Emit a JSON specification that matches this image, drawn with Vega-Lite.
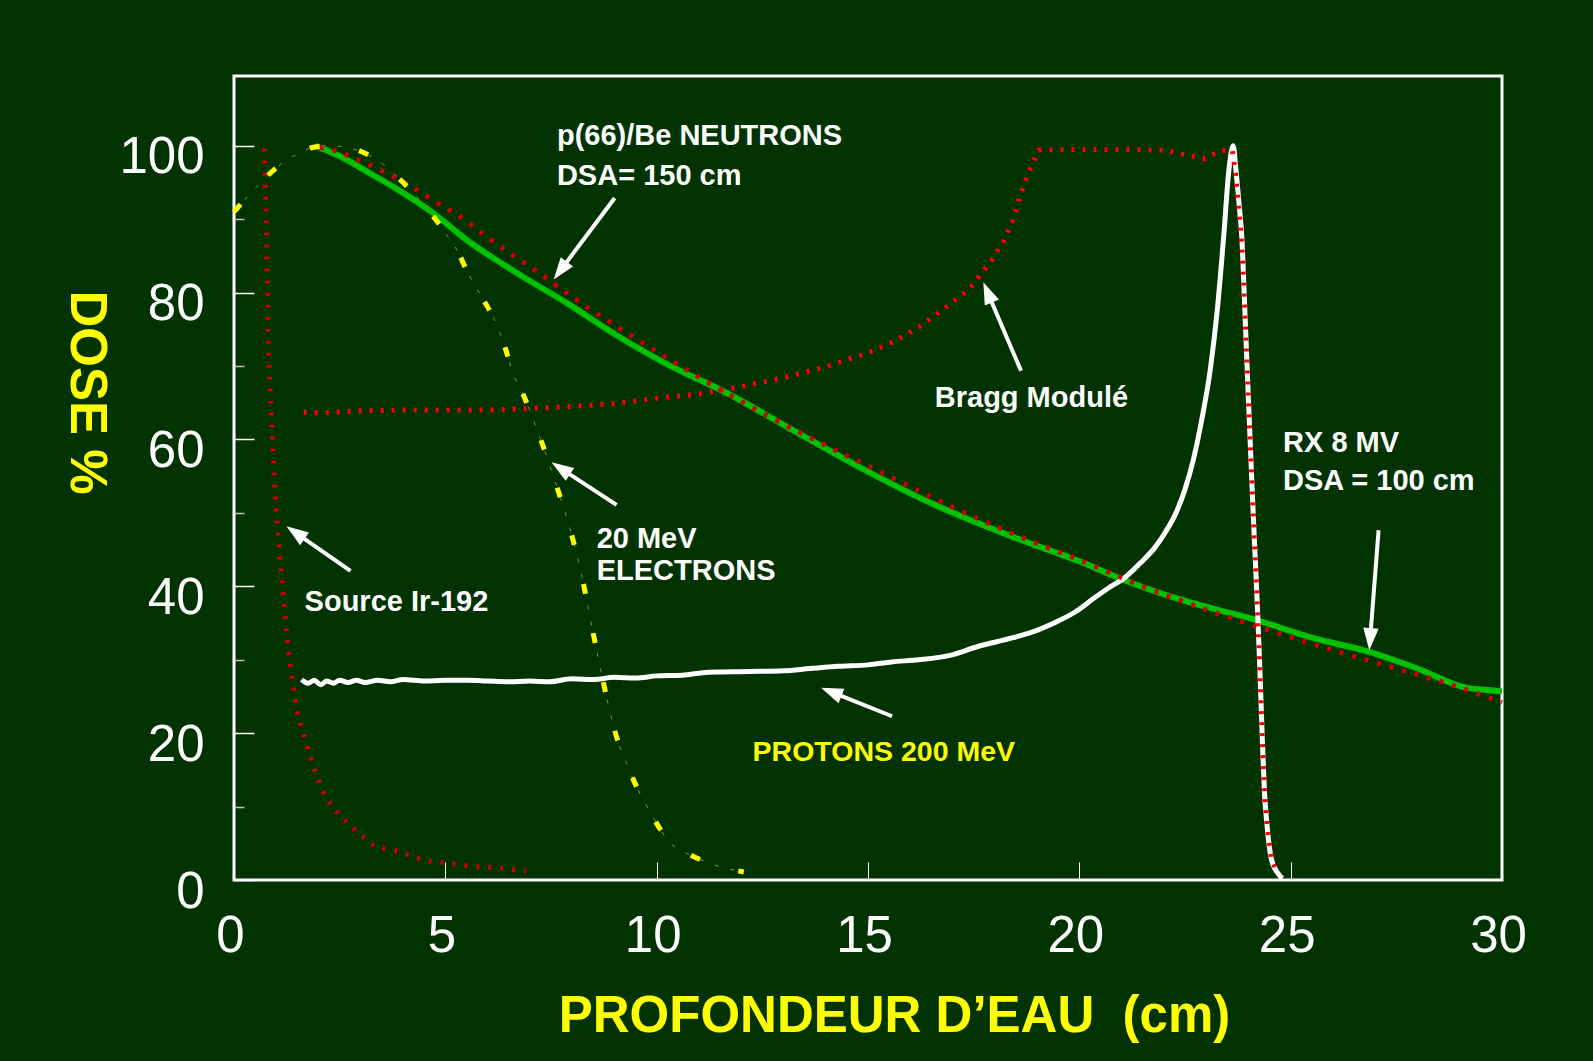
{
  "$schema": "https://vega.github.io/schema/vega-lite/v6.json",
  "width": 1268,
  "height": 804,
  "autosize": {"type": "none"},
  "padding": {"left": 234, "top": 76, "right": 91, "bottom": 181},
  "background": "#003300",
  "config": {
    "view": {"stroke": "#ffffff", "strokeWidth": 3, "fill": "#003300"},
    "font": "Liberation Sans"
  },
  "datasets": {
    "rx": [
      {"x": 1.92, "y": 100}, {"x": 2.6, "y": 98.3}, {"x": 3.2, "y": 96.3}, {"x": 3.77, "y": 94.4},
      {"x": 4.72, "y": 90.8}, {"x": 5.5, "y": 87.2}, {"x": 6.77, "y": 82.4}, {"x": 7.87, "y": 78.6},
      {"x": 9.05, "y": 74.2}, {"x": 10.5, "y": 69.5}, {"x": 11.5, "y": 66.8}, {"x": 13, "y": 62.0},
      {"x": 14.84, "y": 56.1}, {"x": 16.5, "y": 51.3}, {"x": 18.44, "y": 46.7}, {"x": 20, "y": 43.4},
      {"x": 21.08, "y": 40.8}, {"x": 22.5, "y": 38.0}, {"x": 24.2, "y": 35.4}, {"x": 25.5, "y": 33.0},
      {"x": 26.84, "y": 31.1}, {"x": 28, "y": 28.8}, {"x": 29.15, "y": 26.2}, {"x": 29.4, "y": 26.0},
      {"x": 30, "y": 25.7}
    ],
    "neutrons": [
      {"x": 2.03, "y": 99.8}, {"x": 2.35, "y": 99.4}, {"x": 2.94, "y": 98.1}, {"x": 3.53, "y": 96.5},
      {"x": 4.15, "y": 94.6}, {"x": 4.76, "y": 92.4}, {"x": 5.39, "y": 90.2}, {"x": 5.98, "y": 87.6},
      {"x": 6.57, "y": 85.2}, {"x": 7.19, "y": 82.8}, {"x": 7.79, "y": 80.3}, {"x": 8.38, "y": 77.9},
      {"x": 9.0, "y": 75.6}, {"x": 9.6, "y": 73.4}, {"x": 11, "y": 68.5}, {"x": 12.5, "y": 63.6},
      {"x": 14, "y": 59.2}, {"x": 15.5, "y": 55.0}, {"x": 17, "y": 50.8}, {"x": 18.5, "y": 47.0},
      {"x": 20, "y": 43.6}, {"x": 21.5, "y": 40.0}, {"x": 23, "y": 36.8}, {"x": 24.5, "y": 34.0},
      {"x": 26, "y": 31.3}, {"x": 27.5, "y": 28.8}, {"x": 29, "y": 26.2}, {"x": 30, "y": 24.2}
    ],
    "ir": [
      {"x": 0.72, "y": 99.6}, {"x": 0.74, "y": 95}, {"x": 0.77, "y": 88}, {"x": 0.81, "y": 74.5},
      {"x": 0.86, "y": 66}, {"x": 0.91, "y": 60}, {"x": 0.96, "y": 54}, {"x": 1.03, "y": 48},
      {"x": 1.1, "y": 43}, {"x": 1.18, "y": 38}, {"x": 1.28, "y": 31.5}, {"x": 1.4, "y": 26.5},
      {"x": 1.5, "y": 22.8}, {"x": 1.63, "y": 20.2}, {"x": 1.8, "y": 16.8}, {"x": 2.0, "y": 13.6},
      {"x": 2.15, "y": 11.6}, {"x": 2.43, "y": 9.3}, {"x": 2.7, "y": 7.7}, {"x": 2.99, "y": 6.2},
      {"x": 3.29, "y": 4.8}, {"x": 3.88, "y": 3.9}, {"x": 4.51, "y": 2.7}, {"x": 5.07, "y": 2.3},
      {"x": 5.7, "y": 1.85}, {"x": 6.32, "y": 1.6}, {"x": 6.91, "y": 1.2}
    ],
    "bragg": [
      {"x": 1.65, "y": 63.7}, {"x": 2, "y": 63.6}, {"x": 3, "y": 63.9}, {"x": 4, "y": 64.0},
      {"x": 5, "y": 64.0}, {"x": 6, "y": 64.0}, {"x": 7, "y": 64.2}, {"x": 8, "y": 64.5},
      {"x": 9, "y": 64.9}, {"x": 10, "y": 65.6}, {"x": 11, "y": 66.2}, {"x": 12, "y": 67.2},
      {"x": 13, "y": 68.4}, {"x": 14, "y": 69.9}, {"x": 15, "y": 71.8}, {"x": 15.6, "y": 73.3},
      {"x": 16.2, "y": 75.3}, {"x": 16.8, "y": 77.8}, {"x": 17.4, "y": 80.5}, {"x": 17.9, "y": 84.2},
      {"x": 18.2, "y": 86.9}, {"x": 18.45, "y": 90.1}, {"x": 18.6, "y": 93.2}, {"x": 18.8, "y": 96.4},
      {"x": 19.04, "y": 99.4}, {"x": 20, "y": 99.5}, {"x": 21, "y": 99.5}, {"x": 22, "y": 99.4},
      {"x": 22.98, "y": 98.2}, {"x": 23.3, "y": 99.3}, {"x": 23.62, "y": 99.4}, {"x": 23.7, "y": 96},
      {"x": 23.78, "y": 91}, {"x": 23.85, "y": 86}, {"x": 23.9, "y": 80}, {"x": 23.94, "y": 74},
      {"x": 23.99, "y": 67}, {"x": 24.04, "y": 60}, {"x": 24.12, "y": 49}, {"x": 24.2, "y": 39},
      {"x": 24.27, "y": 29}, {"x": 24.33, "y": 19}, {"x": 24.38, "y": 12}, {"x": 24.44, "y": 7.5},
      {"x": 24.55, "y": 2.7}, {"x": 24.7, "y": 0.9}
    ],
    "protons": [
      {"x": 1.6, "y": 27.3}, {"x": 1.75, "y": 26.8}, {"x": 1.9, "y": 27.2}, {"x": 2.05, "y": 26.6},
      {"x": 2.2, "y": 27.1}, {"x": 2.35, "y": 26.8}, {"x": 2.5, "y": 27.2}, {"x": 2.7, "y": 26.9},
      {"x": 2.9, "y": 27.2}, {"x": 3.1, "y": 26.9}, {"x": 3.4, "y": 27.2}, {"x": 3.7, "y": 27.0},
      {"x": 4.0, "y": 27.3}, {"x": 4.5, "y": 27.1}, {"x": 5.0, "y": 27.2}, {"x": 5.5, "y": 27.2},
      {"x": 6.0, "y": 27.1}, {"x": 6.5, "y": 27.0}, {"x": 7.0, "y": 27.1}, {"x": 7.47, "y": 27.0},
      {"x": 8.0, "y": 27.4}, {"x": 8.5, "y": 27.3}, {"x": 9.0, "y": 27.6}, {"x": 9.5, "y": 27.5},
      {"x": 10.0, "y": 27.8}, {"x": 10.6, "y": 27.9}, {"x": 11.23, "y": 28.3}, {"x": 12.2, "y": 28.4},
      {"x": 13.0, "y": 28.5}, {"x": 13.63, "y": 28.8}, {"x": 14.3, "y": 29.1}, {"x": 15.0, "y": 29.3},
      {"x": 15.56, "y": 29.7}, {"x": 16.2, "y": 30.0}, {"x": 16.94, "y": 30.6}, {"x": 17.6, "y": 31.8},
      {"x": 18.43, "y": 33.0}, {"x": 19.0, "y": 34.0}, {"x": 19.4, "y": 35.0}, {"x": 19.9, "y": 36.5},
      {"x": 20.35, "y": 38.4}, {"x": 20.7, "y": 39.8}, {"x": 21.08, "y": 41.2}, {"x": 21.45, "y": 43.2},
      {"x": 21.79, "y": 45.3}, {"x": 22.05, "y": 47.5}, {"x": 22.28, "y": 49.9}, {"x": 22.5, "y": 53.2},
      {"x": 22.7, "y": 57.3}, {"x": 22.9, "y": 62.8}, {"x": 23.1, "y": 69.6}, {"x": 23.27, "y": 78.0},
      {"x": 23.42, "y": 88.0}, {"x": 23.54, "y": 96.8}, {"x": 23.64, "y": 100}, {"x": 23.7, "y": 97},
      {"x": 23.78, "y": 92}, {"x": 23.85, "y": 87}, {"x": 23.9, "y": 80}, {"x": 23.94, "y": 74},
      {"x": 23.99, "y": 67}, {"x": 24.04, "y": 60}, {"x": 24.12, "y": 49}, {"x": 24.2, "y": 39},
      {"x": 24.27, "y": 29}, {"x": 24.33, "y": 19}, {"x": 24.38, "y": 12}, {"x": 24.44, "y": 7.5},
      {"x": 24.55, "y": 2.7}, {"x": 24.7, "y": 0.9}, {"x": 24.8, "y": 0.2}
    ],
    "electrons": [
      {"x": 0, "y": 91}, {"x": 0.5, "y": 94.2}, {"x": 1.09, "y": 97.4}, {"x": 1.5, "y": 98.9},
      {"x": 1.88, "y": 99.8}, {"x": 2.23, "y": 100}, {"x": 2.8, "y": 99.6}, {"x": 3.45, "y": 97.8},
      {"x": 4.0, "y": 95}, {"x": 4.56, "y": 91.5}, {"x": 5.03, "y": 87.9}, {"x": 5.31, "y": 85.4},
      {"x": 5.5, "y": 83.1}, {"x": 5.9, "y": 79.0}, {"x": 6.13, "y": 76.7}, {"x": 6.41, "y": 72.6},
      {"x": 6.6, "y": 69.0}, {"x": 6.83, "y": 66.3}, {"x": 7.08, "y": 62.7}, {"x": 7.25, "y": 60.1},
      {"x": 7.63, "y": 53.7}, {"x": 7.97, "y": 47.4}, {"x": 8.24, "y": 41.1}, {"x": 8.46, "y": 34.7},
      {"x": 8.68, "y": 28.5}, {"x": 9.0, "y": 20.5}, {"x": 9.37, "y": 14.7}, {"x": 9.85, "y": 9.2},
      {"x": 10.33, "y": 5.0}, {"x": 10.8, "y": 3.4}, {"x": 11.29, "y": 2.2}, {"x": 12.06, "y": 1.1}
    ],
    "labels": [
      {"text": "p(66)/Be NEUTRONS", "x": 7.64, "y": 101.3},
      {"text": "DSA= 150 cm", "x": 7.64, "y": 95.9},
      {"text": "Bragg Modulé", "x": 16.58, "y": 65.6},
      {"text": "RX 8 MV", "x": 24.82, "y": 59.5},
      {"text": "DSA = 100 cm", "x": 24.82, "y": 54.4},
      {"text": "20 MeV", "x": 8.58, "y": 46.5},
      {"text": "ELECTRONS", "x": 8.58, "y": 42.1},
      {"text": "Source Ir-192", "x": 1.67, "y": 37.8}
    ],
    "ylabels": [
      {"text": "PROTONS 200 MeV", "x": 12.27, "y": 17.5}
    ],
    "arrows": [
      {"name": "neutrons", "x": 9.007, "y": 92.89, "xh": 7.72, "yh": 83.0},
      {"name": "bragg", "x": 18.62, "y": 69.35, "xh": 17.83, "yh": 80.02},
      {"name": "rx", "x": 27.08, "y": 47.63, "xh": 26.88, "yh": 32.8},
      {"name": "electrons", "x": 9.05, "y": 51.08, "xh": 7.73, "yh": 56.07},
      {"name": "ir", "x": 2.756, "y": 42.09, "xh": 1.455, "yh": 47.32},
      {"name": "protons", "x": 15.57, "y": 22.3, "xh": 14.13, "yh": 25.62}
    ]
  },
  "resolve": {"axis": {"y": "independent"}},
  "layer": [
    {
      "data": {"name": "rx"},
      "mark": {"type": "line", "color": "#00c000", "strokeWidth": 6, "interpolate": "monotone"},
      "encoding": {
        "x": {
          "field": "x", "type": "quantitative",
          "scale": {"domain": [0, 30], "nice": false, "zero": false},
          "axis": {
            "values": [0, 5, 10, 15, 20, 25, 30],
            "title": "PROFONDEUR D’EAU\u00a0 (cm)",
            "titleColor": "#ffff00", "titleFontSize": 51, "titleFontWeight": "bold", "titleFont": "Liberation Sans",
            "titleX": 660, "titleY": 151, "titleAlign": "center", "titleBaseline": "alphabetic", "titleAnchor": null,
            "labelFontSize": 51, "labelColor": "#ffffff", "labelFont": "Liberation Sans",
            "labelPadding": 49, "labelOffset": -4, "labelFlush": false, "labelOverlap": false, "labelBound": false,
            "tickSize": -18, "tickColor": "#ffffff", "tickWidth": 1,
            "domain": false, "grid": false
          }
        },
        "y": {
          "field": "y", "type": "quantitative",
          "scale": {"domain": [0, 109.5], "nice": false, "zero": false},
          "axis": {
            "values": [0, 20, 40, 60, 80, 100],
            "title": "DOSE %",
            "titleColor": "#ffff00", "titleFontSize": 51, "titleFontWeight": "bold", "titleFont": "Liberation Sans",
            "titleAngle": 90, "titleX": -164, "titleY": 316, "titleAlign": "center", "titleBaseline": "alphabetic", "titleAnchor": null,
            "labelFontSize": 51, "labelColor": "#ffffff", "labelFont": "Liberation Sans",
            "labelPadding": 50, "labelOffset": 12, "labelFlush": false, "labelOverlap": false, "labelBound": false,
            "tickSize": -20, "tickColor": "#ffffff", "tickWidth": 1.5,
            "domain": false, "grid": false
          }
        }
      }
    },
    {
      "data": {"name": "protons"},
      "mark": {"type": "line", "color": "#ffffff", "strokeWidth": 5, "interpolate": "monotone"},
      "encoding": {
        "x": {"field": "x", "type": "quantitative"},
        "y": {
          "field": "y", "type": "quantitative",
          "axis": {
            "orient": "left", "values": [10, 30, 50, 70, 90],
            "labels": false, "title": null, "domain": false, "grid": false,
            "tickSize": -10, "tickColor": "#bbbbbb", "tickWidth": 1.5
          }
        }
      }
    },
    {
      "data": {"name": "bragg"},
      "mark": {"type": "line", "color": "#ff0000", "strokeWidth": 5, "strokeDash": [3, 8]},
      "encoding": {
        "x": {"field": "x", "type": "quantitative"},
        "y": {"field": "y", "type": "quantitative", "axis": null}
      }
    },
    {
      "data": {"name": "neutrons"},
      "mark": {"type": "line", "color": "#cc0000", "strokeWidth": 5, "strokeDash": [4, 9], "interpolate": "monotone"},
      "encoding": {
        "x": {"field": "x", "type": "quantitative"},
        "y": {"field": "y", "type": "quantitative", "axis": null}
      }
    },
    {
      "data": {"name": "ir"},
      "mark": {"type": "line", "color": "#cc0000", "strokeWidth": 5, "strokeDash": [3, 9], "interpolate": "monotone"},
      "encoding": {
        "x": {"field": "x", "type": "quantitative"},
        "y": {"field": "y", "type": "quantitative", "axis": null}
      }
    },
    {
      "data": {"name": "electrons"},
      "mark": {"type": "line", "color": "#8a9a10", "strokeWidth": 1, "strokeDash": [4, 12], "interpolate": "monotone"},
      "encoding": {
        "x": {"field": "x", "type": "quantitative"},
        "y": {"field": "y", "type": "quantitative", "axis": null}
      }
    },
    {
      "data": {"name": "electrons"},
      "mark": {"type": "line", "color": "#ffff00", "strokeWidth": 5, "strokeDash": [10, 40], "interpolate": "monotone"},
      "encoding": {
        "x": {"field": "x", "type": "quantitative"},
        "y": {"field": "y", "type": "quantitative", "axis": null}
      }
    },
    {
      "data": {"name": "arrows"},
      "mark": {"type": "rule", "color": "#ffffff", "strokeWidth": 4},
      "encoding": {
        "x": {"field": "x", "type": "quantitative"},
        "y": {"field": "y", "type": "quantitative", "axis": null},
        "x2": {"field": "xh"},
        "y2": {"field": "yh"}
      }
    },
    {
      "data": {"name": "arrows"},
      "transform": [{"filter": "datum.name === 'neutrons'"}],
      "mark": {"type": "point", "shape": "M0,-1L0.7,1L-0.7,1Z", "filled": true, "color": "#ffffff", "opacity": 1, "size": 484, "angle": 216.8},
      "encoding": {
        "x": {"field": "xh", "type": "quantitative"},
        "y": {"field": "yh", "type": "quantitative", "axis": null}
      }
    },
    {
      "data": {"name": "arrows"},
      "transform": [{"filter": "datum.name === 'bragg'"}],
      "mark": {"type": "point", "shape": "M0,-1L0.7,1L-0.7,1Z", "filled": true, "color": "#ffffff", "opacity": 1, "size": 484, "angle": 337},
      "encoding": {
        "x": {"field": "xh", "type": "quantitative"},
        "y": {"field": "yh", "type": "quantitative", "axis": null}
      }
    },
    {
      "data": {"name": "arrows"},
      "transform": [{"filter": "datum.name === 'rx'"}],
      "mark": {"type": "point", "shape": "M0,-1L0.7,1L-0.7,1Z", "filled": true, "color": "#ffffff", "opacity": 1, "size": 484, "angle": 184.3},
      "encoding": {
        "x": {"field": "xh", "type": "quantitative"},
        "y": {"field": "yh", "type": "quantitative", "axis": null}
      }
    },
    {
      "data": {"name": "arrows"},
      "transform": [{"filter": "datum.name === 'electrons'"}],
      "mark": {"type": "point", "shape": "M0,-1L0.7,1L-0.7,1Z", "filled": true, "color": "#ffffff", "opacity": 1, "size": 484, "angle": 303.3},
      "encoding": {
        "x": {"field": "xh", "type": "quantitative"},
        "y": {"field": "yh", "type": "quantitative", "axis": null}
      }
    },
    {
      "data": {"name": "arrows"},
      "transform": [{"filter": "datum.name === 'ir'"}],
      "mark": {"type": "point", "shape": "M0,-1L0.7,1L-0.7,1Z", "filled": true, "color": "#ffffff", "opacity": 1, "size": 484, "angle": 304.9},
      "encoding": {
        "x": {"field": "xh", "type": "quantitative"},
        "y": {"field": "yh", "type": "quantitative", "axis": null}
      }
    },
    {
      "data": {"name": "arrows"},
      "transform": [{"filter": "datum.name === 'protons'"}],
      "mark": {"type": "point", "shape": "M0,-1L0.7,1L-0.7,1Z", "filled": true, "color": "#ffffff", "opacity": 1, "size": 484, "angle": 291.9},
      "encoding": {
        "x": {"field": "xh", "type": "quantitative"},
        "y": {"field": "yh", "type": "quantitative", "axis": null}
      }
    },
    {
      "data": {"name": "labels"},
      "mark": {"type": "text", "color": "#ffffff", "font": "Liberation Sans", "fontWeight": "bold", "fontSize": 29, "align": "left", "baseline": "middle"},
      "encoding": {
        "x": {"field": "x", "type": "quantitative"},
        "y": {"field": "y", "type": "quantitative", "axis": null},
        "text": {"field": "text"}
      }
    },
    {
      "data": {"name": "ylabels"},
      "mark": {"type": "text", "color": "#ffff00", "font": "Liberation Sans", "fontWeight": "bold", "fontSize": 28.5, "align": "left", "baseline": "middle"},
      "encoding": {
        "x": {"field": "x", "type": "quantitative"},
        "y": {"field": "y", "type": "quantitative", "axis": null},
        "text": {"field": "text"}
      }
    }
  ]
}
